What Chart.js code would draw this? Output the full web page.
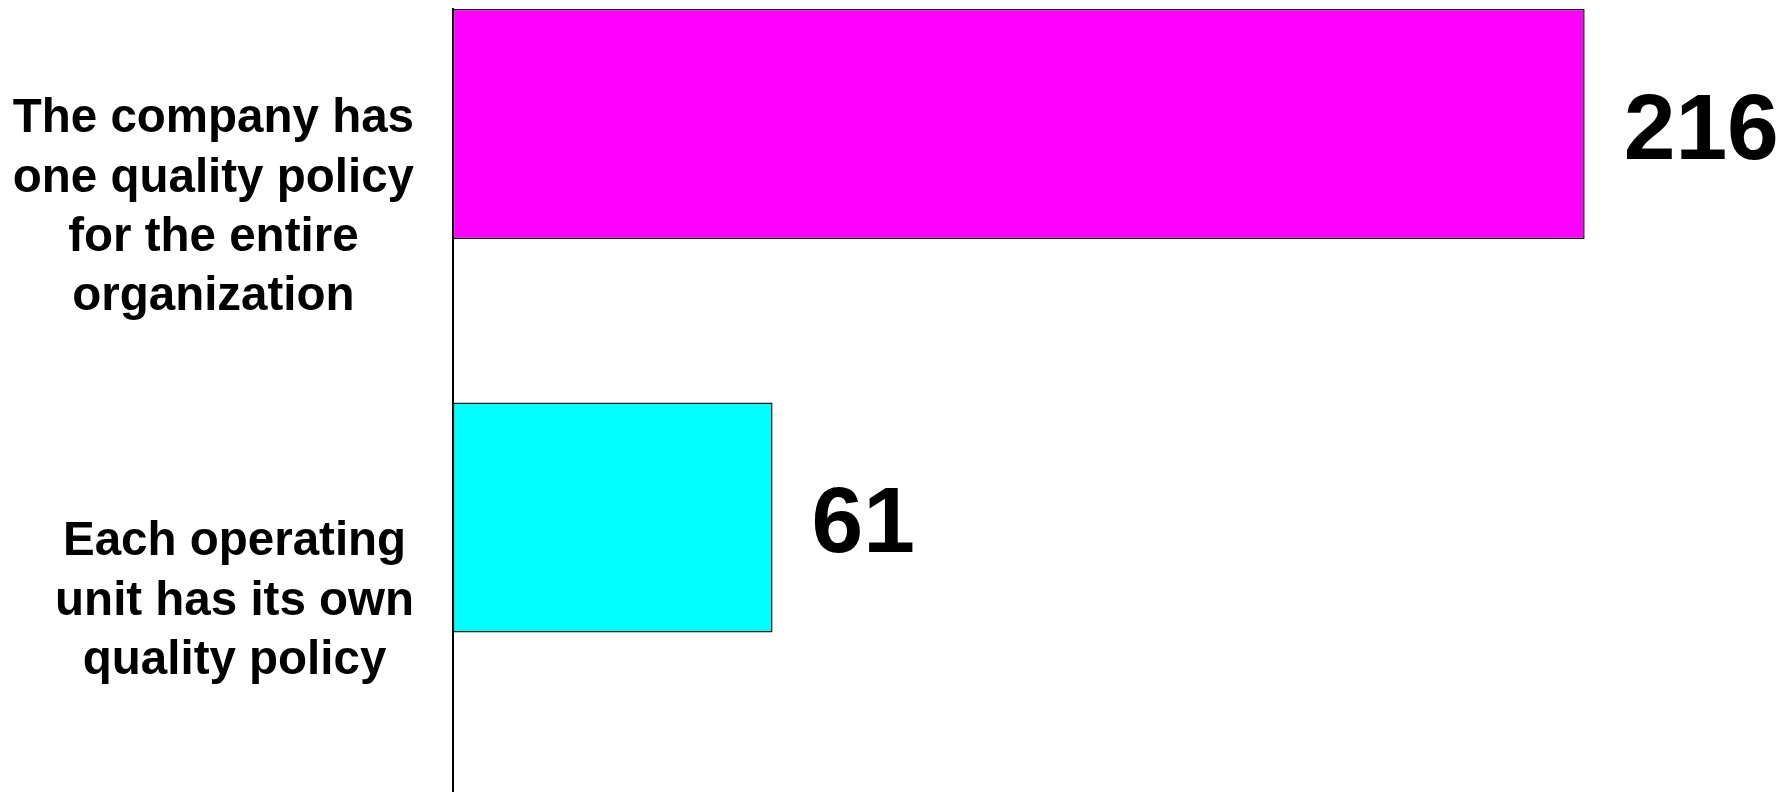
<!DOCTYPE html>
<html>
<head>
<meta charset="utf-8">
<script src="https://cdn.jsdelivr.net/npm/chart.js@4.4.1/dist/chart.umd.min.js"></script>
<style>
html,body{margin:0;padding:0;background:#fff;}
#wrap{width:1789px;height:792px;position:relative;}
</style>
</head>
<body>
<div id="wrap"><canvas id="c"></canvas></div>
<script>
// ---- data ----
const categories = [
  ["The company has", "one quality policy", "for the entire", "organization"],
  ["Each operating", "unit has its own", "quality policy"]
];
const values = [216, 61];
const barColors = ["#FF00FF", "#00FFFF"];

const FONT_FAMILY = '"Liberation Sans", Arial, Helvetica, sans-serif';

// Center each line inside a right-aligned label block (as in the original)
const labelBlockAlign = {
  id: 'labelBlockAlign',
  beforeDraw(chart) {
    const scale = chart.scales.y;
    const items = scale.getLabelItems();
    const ctx = chart.ctx;
    const rightEdge = scale.right - scale.options.ticks.padding;
    ctx.save();
    items.forEach(item => {
      ctx.font = item.font.string;
      const lines = Array.isArray(item.label) ? item.label : [item.label];
      let widest = 0;
      lines.forEach(l => { widest = Math.max(widest, ctx.measureText(l).width); });
      item.options.textAlign = 'center';
      item.options.translation[0] = rightEdge - widest / 2;
    });
    ctx.restore();
  }
};

const valueLabels = {
  id: 'valueLabels',
  afterDatasetsDraw(chart) {
    const ctx = chart.ctx;
    const meta = chart.getDatasetMeta(0);
    ctx.save();
    ctx.font = 'bold 93px ' + FONT_FAMILY;
    ctx.fillStyle = '#000';
    ctx.textAlign = 'left';
    ctx.textBaseline = 'middle';
    meta.data.forEach((bar, i) => {
      ctx.fillText(String(values[i]), bar.x + 39, bar.y + 9);
    });
    ctx.restore();
  }
};

new Chart(document.getElementById('c'), {
  type: 'bar',
  data: {
    datasets: [{
      data: values.map((v, i) => ({ x: v, y: i })),
      backgroundColor: barColors,
      borderColor: '#1a1a1a',
      borderWidth: 1.5,
      borderSkipped: false,
      barPercentage: 0.585,
      categoryPercentage: 1.0
    }]
  },
  options: {
    indexAxis: 'y',
    responsive: true,
    maintainAspectRatio: false,
    animation: false,
    events: [],
    layout: { padding: { top: 9, left: 0, right: 0, bottom: 0 } },
    plugins: {
      legend: { display: false },
      tooltip: { enabled: false },
      title: { display: false }
    },
    scales: {
      x: {
        type: 'linear',
        display: false,
        min: 0,
        max: 255
      },
      y: {
        type: 'linear',
        offset: false,
        reverse: true,
        min: -0.2922,
        max: 1.6976,
        afterBuildTicks(scale) {
          scale.ticks = categories.map((_, i) => ({ value: i }));
        },
        afterFit(scale) {
          scale.width = 453;
          scale.paddingTop = 0;
          scale.paddingBottom = 0;
        },
        grid: { display: false, drawTicks: false, offset: false },
        border: { display: true, color: '#000', width: 2 },
        ticks: {
          padding: 39,
          labelOffset: 84,
          crossAlign: 'center',
          color: '#000',
          font: { family: FONT_FAMILY, size: 47.5, weight: 'bold', lineHeight: 1.245 },
          callback: (value) => categories[value] !== undefined ? categories[value] : ''
        }
      }
    }
  },
  plugins: [labelBlockAlign, valueLabels]
});
</script>
</body>
</html>
